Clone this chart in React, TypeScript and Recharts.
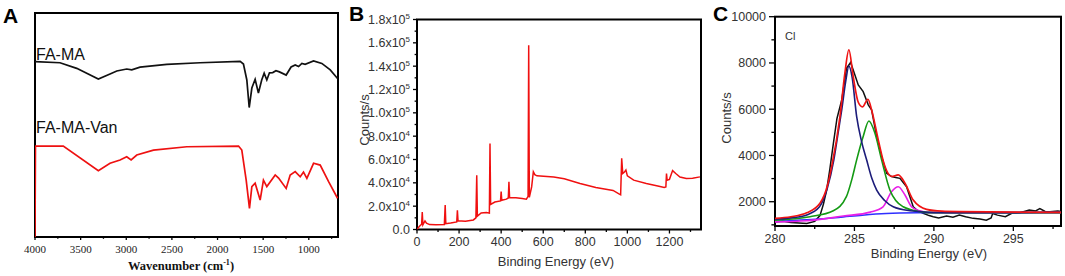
import React from 'react';
import { LineChart, Line, XAxis, YAxis } from 'recharts';

const SANS = '"Liberation Sans", Arial, Helvetica, sans-serif';
const SERIF = '"Liberation Serif", "Times New Roman", Times, serif';

// ---------- A: FTIR spectra (transmittance, arb. units) ----------
const faMaWave = [4000, 3726, 3543, 3306, 3178, 3104, 2995, 2940, 2849, 2556, 2191, 1752, 1716, 1679, 1653, 1624, 1588, 1552, 1516, 1489, 1460, 1431, 1395, 1360, 1322, 1248, 1194, 1149, 1112, 1076, 1040, 948, 857, 765, 685];
const faMaT = [78.3, 77.8, 75.3, 70.5, 72.8, 74.1, 75.0, 74.6, 75.8, 77.1, 77.8, 78.4, 77.2, 70.1, 57.8, 66.5, 70.4, 64.3, 70.1, 73.1, 70.1, 73.3, 73.4, 74.2, 73.7, 72.3, 75.9, 76.8, 76.1, 77.5, 77.1, 78.6, 77.5, 74.6, 70.8];
const vanWave = [4000, 3995, 3690, 3306, 3178, 3068, 2995, 2947, 2885, 2702, 2337, 1770, 1734, 1686, 1650, 1624, 1588, 1533, 1497, 1460, 1368, 1331, 1248, 1204, 1149, 1094, 1058, 1021, 948, 875, 783, 685];
const vanT = [0, 40.6, 40.6, 29.6, 32.9, 34.4, 35.8, 34.4, 36.6, 38.8, 40.3, 40.6, 38.8, 25.4, 12.8, 22.5, 24.0, 16.5, 25.4, 22.5, 27.7, 26.3, 21.7, 27.7, 29.2, 26.9, 29.0, 26.2, 32.9, 32.1, 24.7, 17.3];
const aMajor = [4000, 3500, 3000, 2500, 2000, 1500, 1000];
const aTicks = [4000, 3750, 3500, 3250, 3000, 2750, 2500, 2250, 2000, 1750, 1500, 1250, 1000, 750];

// ---------- B: XPS survey ----------
const surveyEnergy = [0, 8, 15, 22, 25, 28, 38, 45, 60, 90, 130, 134, 137, 160, 189, 192, 195, 230, 268, 280, 284, 287, 305, 330, 344, 347, 350, 370, 397, 400, 403, 425, 434, 437, 440, 470, 500, 520, 528, 531, 534, 545, 553, 560, 570, 650, 700, 775, 850, 932, 960, 968, 973, 978, 985, 993, 1000, 1030, 1090, 1150, 1175, 1183, 1186, 1189, 1200, 1215, 1230, 1250, 1280, 1310, 1345];
const surveyCounts = [0, 2000, 3500, 4500, 15000, 4000, 7400, 5500, 4200, 4000, 4300, 21000, 5000, 5500, 6500, 16500, 7500, 7000, 8200, 10000, 46500, 11500, 14200, 14500, 14000, 73700, 21500, 23500, 24500, 32500, 25000, 26000, 27000, 41000, 27500, 27300, 26500, 26000, 28500, 158000, 27500, 36500, 49500, 47000, 46000, 45000, 43500, 39500, 36000, 33500, 30500, 29800, 61000, 48000, 49000, 51000, 46000, 42300, 39400, 37000, 36000, 36500, 48000, 42300, 43000, 50500, 48000, 45000, 43700, 44000, 45100];
const bMajorX = [0, 200, 400, 600, 800, 1000, 1200];
const bTicksX = [0, 100, 200, 300, 400, 500, 600, 700, 800, 900, 1000, 1100, 1200, 1300];
const bMajorY = [0, 20000, 40000, 60000, 80000, 100000, 120000, 140000, 160000, 180000];
const bTicksY = [0, 10000, 20000, 30000, 40000, 50000, 60000, 70000, 80000, 90000, 100000, 110000, 120000, 130000, 140000, 150000, 160000, 170000, 180000];

// ---------- C: C1s high resolution ----------
const c1sEnergy = [280, 280.5, 281, 281.5, 282, 282.5, 282.83, 283.05, 283.25, 283.45, 283.67, 283.9, 284.2, 284.5, 284.76, 285.03, 285.24, 285.55, 285.87, 286.08, 286.4, 286.71, 287.03, 287.34, 287.6, 287.86, 288.28, 288.7, 289, 289.33, 289.7, 289.96, 290.3, 290.8, 291.2, 291.6, 292, 292.47, 292.9, 293.3, 293.6, 293.7, 294, 294.5, 294.9, 295.4, 295.8, 296, 296.4, 296.67, 297, 297.3, 297.8, 298];
const c1sCounts = [1120, 1150, 1100, 1080, 1060, 1150, 1400, 1900, 2500, 3400, 4500, 5600, 6400, 7770, 8020, 7480, 7050, 6760, 6190, 5970, 4810, 3950, 3230, 3090, 3050, 3010, 2650, 1780, 1600, 1500, 1400, 1350, 1300, 1380, 1330, 1420, 1350, 1280, 1250, 1200, 1300, 1490, 1420, 1350, 1500, 1520, 1600, 1640, 1600, 1700, 1580, 1570, 1600, 1580];
const fitEnergy = [280, 281, 282, 282.83, 283.3, 283.57, 284.09, 284.4, 284.65, 284.92, 285.24, 285.5, 285.85, 286.08, 286.5, 286.92, 287.34, 287.76, 288.18, 288.7, 289.54, 290.5, 291.6, 298];
const fitCounts = [1280, 1350, 1520, 1930, 2700, 3530, 5690, 7570, 8570, 7420, 6300, 6100, 6430, 5970, 4670, 3520, 3090, 3160, 2800, 2070, 1670, 1590, 1570, 1540];
const ccEnergy = [280, 281, 282, 282.8, 283.3, 283.7, 284.0, 284.2, 284.45, 284.65, 284.85, 285.14, 285.45, 285.77, 286.1, 286.4, 286.9, 287.44, 288.5, 290, 293, 298];
const ccCounts = [1240, 1300, 1430, 1780, 2600, 3800, 5100, 5970, 7200, 7870, 7400, 5680, 4600, 3800, 3000, 2500, 2050, 1780, 1610, 1540, 1520, 1540];
const coEnergy = [280, 282.2, 283.67, 284.5, 284.85, 285.14, 285.55, 285.91, 286.29, 286.71, 287.23, 287.6, 288.07, 289.12, 290, 298];
const coCounts = [1200, 1350, 1610, 2230, 3000, 3810, 4820, 5490, 4960, 3810, 2510, 2050, 1780, 1570, 1520, 1530];
const ocoEnergy = [280, 282, 284.3, 286, 286.8, 287.33, 287.76, 288.18, 288.6, 289.33, 290, 298];
const ocoCounts = [1130, 1180, 1380, 1550, 1780, 2430, 2650, 2290, 1780, 1570, 1520, 1530];
const bgEnergy = [280, 282, 284, 285.5, 287, 289, 292, 298];
const bgCounts = [1150, 1220, 1320, 1420, 1490, 1520, 1530, 1540];
const cMajorX = [280, 285, 290, 295];
const cTicksX = [280, 282.5, 285, 287.5, 290, 292.5, 295, 297.5];
const cMajorY = [2000, 4000, 6000, 8000, 10000];
const cTicksY = [1000, 2000, 3000, 4000, 5000, 6000, 7000, 8000, 9000, 10000];

const zip = (xs: number[], ys: number[]) => xs.map((x, i) => ({ x, y: ys[i] }));

const faMa = zip(faMaWave, faMaT);
const faMaVan = zip(vanWave, vanT);
const survey = zip(surveyEnergy, surveyCounts);
const c1s = zip(c1sEnergy, c1sCounts);
const envelope = zip(fitEnergy, fitCounts);
const ccPeak = zip(ccEnergy, ccCounts);
const coPeak = zip(coEnergy, coCounts);
const ocoPeak = zip(ocoEnergy, ocoCounts);
const background = zip(bgEnergy, bgCounts);

const sciLabel = (v: number) => {
  if (v === 0) return '0.0';
  const exp = v >= 100000 ? 5 : 4;
  return (
    <>
      {(v / 10 ** exp).toFixed(1)}x10
      <tspan dy={-5} fontSize={8}>{exp}</tspan>
    </>
  );
};

// ticks drawn by hand so minor ticks can sit on the same axis
const bottomTick = (majors: number[], len: number, dy: number, font: string, size: number, color: string) => (p: any) => {
  const v = p.payload.value;
  const major = majors.includes(v);
  return (
    <g>
      <line x1={p.x} x2={p.x} y1={p.y} y2={p.y + (major ? len : len * 0.6)} stroke="#000" strokeWidth={1.3} />
      {major && (
        <text x={p.x} y={p.y + dy} textAnchor="middle" fontFamily={font} fontSize={size} fill={color}>
          {v}
        </text>
      )}
    </g>
  );
};

const leftTick = (majors: number[], len: number, fmt: (v: number) => any) => (p: any) => {
  const v = p.payload.value;
  const major = majors.includes(v);
  return (
    <g>
      <line x1={p.x - (major ? len : len * 0.6)} x2={p.x} y1={p.y} y2={p.y} stroke="#000" strokeWidth={1.3} />
      {major && (
        <text x={p.x - len - 3} y={p.y + 4.5} textAnchor="end" fontFamily={SANS} fontSize={12.5} fill="#333">
          {fmt(v)}
        </text>
      )}
    </g>
  );
};

const PanelA = () => (
  <div style={{ position: 'absolute', left: 0, top: 0 }}>
    <LineChart width={350} height={276} margin={{ top: 13, right: 12, left: 35, bottom: 0 }}>
      <XAxis
        type="number"
        dataKey="x"
        domain={[680, 4000]}
        reversed
        allowDataOverflow
        ticks={aTicks}
        interval={0}
        height={39}
        tickSize={0}
        tickMargin={0}
        axisLine={false}
        tickLine={false}
        tick={bottomTick(aMajor, 3, 15.5, SERIF, 11, '#222')}
      />
      <YAxis hide type="number" domain={[0, 100]} />
      <Line data={faMa} dataKey="y" stroke="#111" strokeWidth={1.7} dot={false} isAnimationActive={false} />
      <Line data={faMaVan} dataKey="y" stroke="#ee1111" strokeWidth={1.7} dot={false} isAnimationActive={false} />
    </LineChart>
  </div>
);

const PanelB = () => (
  <div style={{ position: 'absolute', left: 360, top: 0 }}>
    <LineChart width={350} height={276} margin={{ top: 19.5, right: 9, left: 0, bottom: 0 }}>
      <XAxis
        type="number"
        dataKey="x"
        domain={[0, 1350]}
        allowDataOverflow
        ticks={bTicksX}
        interval={0}
        height={46.5}
        tickSize={0}
        tickMargin={0}
        axisLine={false}
        tickLine={false}
        tick={bottomTick(bMajorX, 4, 16.5, SANS, 12.5, '#333')}
      />
      <YAxis
        type="number"
        domain={[0, 180000]}
        allowDataOverflow
        ticks={bTicksY}
        interval={0}
        width={57}
        tickSize={0}
        tickMargin={0}
        axisLine={false}
        tickLine={false}
        tick={leftTick(bMajorY, 4, sciLabel)}
      />
      <Line data={survey} dataKey="y" stroke="#f01010" strokeWidth={1.5} dot={false} isAnimationActive={false} />
    </LineChart>
  </div>
);

const PanelC = () => (
  <div style={{ position: 'absolute', left: 710, top: 0 }}>
    <LineChart width={355} height={276} margin={{ top: 16.7, right: 4, left: 0, bottom: 0 }}>
      <XAxis
        type="number"
        dataKey="x"
        domain={[280, 298]}
        allowDataOverflow
        ticks={cTicksX}
        interval={0}
        height={50}
        tickSize={0}
        tickMargin={0}
        axisLine={false}
        tickLine={false}
        tick={bottomTick(cMajorX, 5, 17.3, SANS, 12.5, '#333')}
      />
      <YAxis
        type="number"
        domain={[950, 10000]}
        allowDataOverflow
        ticks={cTicksY}
        interval={0}
        width={65}
        tickSize={0}
        tickMargin={0}
        axisLine={false}
        tickLine={false}
        tick={leftTick(cMajorY, 6, (v) => String(v))}
      />
      <Line data={c1s} dataKey="y" stroke="#111" strokeWidth={1.5} dot={false} isAnimationActive={false} />
      <Line data={background} type="monotone" dataKey="y" stroke="#2f2fff" strokeWidth={1.5} dot={false} isAnimationActive={false} />
      <Line data={ocoPeak} type="monotone" dataKey="y" stroke="#e81ee8" strokeWidth={1.6} dot={false} isAnimationActive={false} />
      <Line data={coPeak} type="monotone" dataKey="y" stroke="#149a14" strokeWidth={1.6} dot={false} isAnimationActive={false} />
      <Line data={ccPeak} type="monotone" dataKey="y" stroke="#1c1c7a" strokeWidth={1.6} dot={false} isAnimationActive={false} />
      <Line data={envelope} type="monotone" dataKey="y" stroke="#f01414" strokeWidth={1.7} dot={false} isAnimationActive={false} />
    </LineChart>
  </div>
);

// plot frames sit under the curves
const Frames = () => (
  <svg width={1065} height={276} style={{ position: 'absolute', left: 0, top: 0, pointerEvents: 'none' }}>
    <rect x={35} y={13} width={303} height={224} fill="none" stroke="#000" strokeWidth={2} />
    <rect x={417} y={19.5} width={284} height={210} fill="none" stroke="#000" strokeWidth={2} />
    <rect x={775} y={16.7} width={286} height={209.3} fill="none" stroke="#000" strokeWidth={2} />
  </svg>
);

// titles and panel letters on top
const Labels = () => (
  <svg width={1065} height={276} style={{ position: 'absolute', left: 0, top: 0, pointerEvents: 'none' }}>
    <g fontFamily={SANS} fontWeight="bold" fontSize={21} fill="#000">
      <text x={3} y={23}>A</text>
      <text x={349} y={21}>B</text>
      <text x={713} y={21}>C</text>
    </g>

    <g fontFamily={SANS} fontSize={16} fill="#111">
      <text x={36} y={59.5}>FA-MA</text>
      <text x={36} y={133}>FA-MA-Van</text>
    </g>

    <text x={181} y={270} textAnchor="middle" fontFamily={SERIF} fontWeight="bold" fontSize={12.5} fill="#111">
      Wavenumber (cm<tspan dy={-5} fontSize={8}>-1</tspan><tspan dy={5}>)</tspan>
    </text>

    <text x={556} y={265.7} textAnchor="middle" fontFamily={SANS} fontSize={13} fill="#333">Binding Energy (eV)</text>
    <text x={369} y={120} transform="rotate(-90 369 120)" textAnchor="middle" fontFamily={SANS} fontSize={13} fill="#333">Counts/s</text>

    <text x={929} y={258.3} textAnchor="middle" fontFamily={SANS} fontSize={13} fill="#333">Binding Energy (eV)</text>
    <text x={731} y={118} transform="rotate(-90 731 118)" textAnchor="middle" fontFamily={SANS} fontSize={13} fill="#333">Counts/s</text>
    <text x={785} y={39.5} fontFamily={SANS} fontSize={11} fill="#333">Cl</text>
  </svg>
);

export default function App() {
  return (
    <div style={{ position: 'absolute', left: 0, top: 0, width: 1065, height: 276, background: '#fff', overflow: 'hidden' }}>
      <Frames />
      <PanelA />
      <PanelB />
      <PanelC />
      <Labels />
    </div>
  );
}
